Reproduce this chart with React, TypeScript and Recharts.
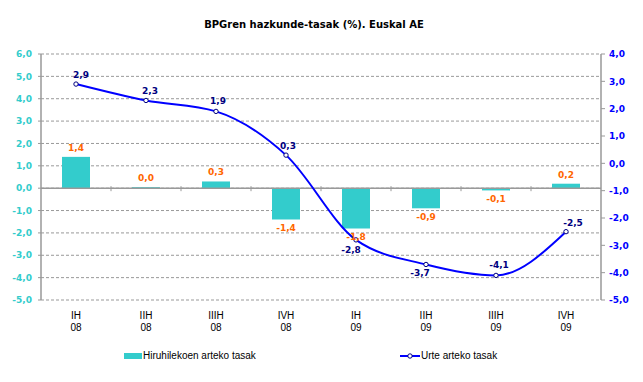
import React from "react"
import {
  Bar,
  CartesianGrid,
  ComposedChart,
  LabelList,
  Legend,
  Line,
  ReferenceLine,
  XAxis,
  YAxis,
} from "recharts"

// Quarters and years shown on the category axis
const quarters = ["IH", "IIH", "IIIH", "IVH", "IH", "IIH", "IIIH", "IVH"]
const years = ["08", "08", "08", "08", "09", "09", "09", "09"]

// Quarter-on-quarter rates (left axis, bars)
const quarterRates = [1.4, 0.0, 0.3, -1.4, -1.8, -0.9, -0.1, 0.2]
// Year-on-year rates (right axis, line)
const yearRates = [2.9, 2.3, 1.9, 0.3, -2.8, -3.7, -4.1, -2.5]

const leftTicks = [-5, -4, -3, -2, -1, 0, 1, 2, 3, 4, 5, 6]
const rightTicks = [-5, -4, -3, -2, -1, 0, 1, 2, 3, 4]

// where each line label sits relative to its point
const lineLabelOffsets = [
  [5, -9],
  [4, -9],
  [2, -10],
  [2, -9],
  [-5, 10],
  [-6, 9],
  [3, -10],
  [7, -9],
]

const data = quarters.map((q, i) => ({
  name: `${q} ${years[i]}`,
  quarter: q,
  year: years[i],
  hiru: quarterRates[i],
  urte: yearRates[i],
}))

const TEAL = "#33CCCC"
const BLUE = "#0000FF"
const NAVY = "#000080"
const ORANGE = "#FF6600"
const GRID = "#999999"
const FONT = "'DejaVu Sans', Verdana, sans-serif"
const PLAIN = "'Liberation Sans', Arial, sans-serif"

const fmt = (v: number) => Number(v).toFixed(1).replace(".", ",")

function CategoryTick(props: any) {
  const { x, y, index } = props
  return (
    <g>
      <text x={x} y={y + 11} textAnchor="middle" fontFamily={PLAIN} fontSize={10} fill="#000">
        {quarters[index]}
      </text>
      <text x={x} y={y + 23} textAnchor="middle" fontFamily={PLAIN} fontSize={10} fill="#000">
        {years[index]}
      </text>
    </g>
  )
}

function BarValueLabel(props: any) {
  const { x, y, width, height, value } = props
  const top = Math.min(y, y + height)
  const bottom = Math.max(y, y + height)
  const cy = value >= 0 ? top - 9 : bottom + 9
  return (
    <text
      x={x + width / 2}
      y={cy}
      textAnchor="middle"
      dominantBaseline="central"
      fontFamily={FONT}
      fontWeight="bold"
      fontSize={9}
      fill={ORANGE}
    >
      {fmt(value)}
    </text>
  )
}

function LineValueLabel(props: any) {
  const { x, y, value, index } = props
  const [dx, dy] = lineLabelOffsets[index] || [0, -9]
  return (
    <text
      x={x + dx}
      y={y + dy}
      textAnchor="middle"
      dominantBaseline="central"
      fontFamily={FONT}
      fontWeight="bold"
      fontSize={9}
      fill={NAVY}
    >
      {fmt(value)}
    </text>
  )
}

function Dot(props: any) {
  const { cx, cy } = props
  return <circle cx={cx} cy={cy} r={2.2} fill="#fff" stroke={NAVY} strokeWidth={1} />
}

// zero line with small category separators
function ZeroLine(props: any) {
  const { x1, x2, y1 } = props
  const n = data.length
  const step = (x2 - x1) / n
  return (
    <g>
      <line x1={x1} x2={x2} y1={y1} y2={y1} stroke={GRID} strokeWidth={1.5} />
      {data.map((_, i) =>
        i === 0 ? null : (
          <line key={i} x1={x1 + i * step} x2={x1 + i * step} y1={y1 - 2} y2={y1 + 3} stroke={GRID} />
        )
      )}
    </g>
  )
}

function LegendContent() {
  return (
    <div style={{ position: "relative", width: 643, height: 30, fontFamily: PLAIN, fontSize: 10 }}>
      <div style={{ position: "absolute", left: 124, top: 13, width: 18, height: 6, background: TEAL }} />
      <div style={{ position: "absolute", left: 143, top: 10, lineHeight: "12px", whiteSpace: "nowrap" }}>
        Hiruhilekoen arteko tasak
      </div>
      <svg style={{ position: "absolute", left: 400, top: 11 }} width={20} height={10}>
        <line x1={0} x2={20} y1={5} y2={5} stroke={BLUE} strokeWidth={2} />
        <circle cx={10} cy={5} r={2.2} fill="#fff" stroke={NAVY} />
      </svg>
      <div style={{ position: "absolute", left: 421, top: 10, lineHeight: "12px", whiteSpace: "nowrap" }}>
        Urte arteko tasak
      </div>
    </div>
  )
}

export default function App() {
  return (
    <div style={{ position: "absolute", left: 0, top: 0, width: 643, height: 382, background: "#fff" }}>
      <ComposedChart
        width={643}
        height={382}
        data={data}
        margin={{ top: 54, right: 0, bottom: 12, left: 0 }}
        barGap={0}
      >
        <text
          x={314}
          y={24}
          textAnchor="middle"
          dominantBaseline="central"
          fontFamily={FONT}
          fontWeight="bold"
          fontSize={10}
          fill="#000"
        >
          BPGren hazkunde-tasak (%). Euskal AE
        </text>
        <CartesianGrid yAxisId="left" vertical={false} stroke={GRID} strokeDasharray="3 2" />
        <XAxis
          dataKey="name"
          axisLine={false}
          tickLine={false}
          height={40}
          interval={0}
          tick={<CategoryTick />}
        />
        <YAxis
          yAxisId="left"
          domain={[-5, 6]}
          ticks={leftTicks}
          width={41}
          tickSize={3}
          tickMargin={6}
          axisLine={{ stroke: GRID, strokeWidth: 1.5 }}
          tickLine={{ stroke: GRID }}
          tickFormatter={fmt}
          tick={{ fill: TEAL, fontFamily: FONT, fontWeight: "bold", fontSize: 9 }}
          interval={0}
        />
        <YAxis
          yAxisId="right"
          orientation="right"
          domain={[-5, 4]}
          ticks={rightTicks}
          width={42}
          tickSize={4}
          tickMargin={4}
          axisLine={{ stroke: GRID, strokeWidth: 1.5 }}
          tickLine={{ stroke: GRID }}
          tickFormatter={fmt}
          tick={{ fill: BLUE, fontFamily: FONT, fontWeight: "bold", fontSize: 9 }}
          interval={0}
        />
        <ReferenceLine yAxisId="left" y={0} shape={<ZeroLine />} />
        <Bar
          yAxisId="left"
          dataKey="hiru"
          fill={TEAL}
          barSize={28}
          minPointSize={1}
          isAnimationActive={false}
        >
          <LabelList dataKey="hiru" content={<BarValueLabel />} />
        </Bar>
        <Line
          yAxisId="right"
          type="monotone"
          dataKey="urte"
          stroke={BLUE}
          strokeWidth={2}
          dot={<Dot />}
          activeDot={false}
          isAnimationActive={false}
        >
          <LabelList dataKey="urte" content={<LineValueLabel />} />
        </Line>
        <Legend verticalAlign="bottom" height={30} content={<LegendContent />} />
      </ComposedChart>
    </div>
  )
}
